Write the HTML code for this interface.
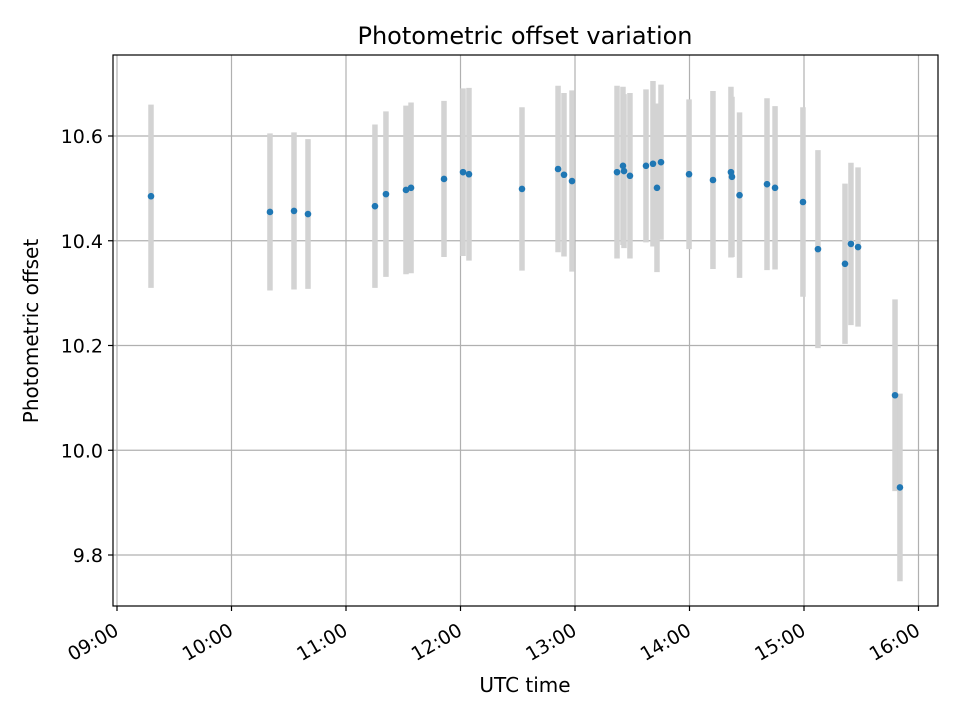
<!DOCTYPE html>
<html><head><meta charset="utf-8"><style>
body{margin:0;background:#fff;}
svg{display:block;font-family:"DejaVu Sans","Liberation Sans",sans-serif;}
</style></head><body>
<svg id="chart" width="960" height="720">
<rect width="960" height="720" fill="#fff"/>
<text x="525" y="44" text-anchor="middle" font-size="24">Photometric offset variation</text>
<g id="grid"></g><g id="errs"></g><g id="pts"></g>
<rect x="113" y="55" width="825" height="551" fill="none" stroke="#000" stroke-width="1.2"/>
<g id="axes"></g>
<text x="525" y="692" text-anchor="middle" font-size="20">UTC time</text>
<text transform="translate(38,331) rotate(-90)" text-anchor="middle" font-size="20">Photometric offset</text>
</svg>
<script>
const times=[9.297,10.336,10.546,10.668,11.253,11.349,11.524,11.568,11.856,12.022,12.074,12.537,12.852,12.904,12.974,13.367,13.419,13.428,13.480,13.620,13.681,13.716,13.751,13.996,14.205,14.362,14.371,14.437,14.677,14.747,14.991,15.122,15.358,15.410,15.472,15.795,15.838];
const offsets=[10.485,10.455,10.457,10.451,10.466,10.489,10.497,10.501,10.518,10.531,10.527,10.499,10.537,10.526,10.514,10.531,10.543,10.533,10.524,10.543,10.547,10.501,10.550,10.527,10.516,10.531,10.522,10.487,10.508,10.501,10.474,10.384,10.356,10.394,10.388,10.105,9.929];
const errors=[0.175,0.150,0.150,0.143,0.156,0.158,0.161,0.163,0.149,0.160,0.165,0.156,0.159,0.156,0.173,0.165,0.151,0.147,0.158,0.146,0.158,0.161,0.148,0.143,0.170,0.163,0.153,0.158,0.164,0.156,0.181,0.189,0.153,0.155,0.152,0.183,0.179];
const xTicks=[9,10,11,12,13,14,15,16];
const xTickLabels=["09:00","10:00","11:00","12:00","13:00","14:00","15:00","16:00"];
const yTicks=[9.8,10.0,10.2,10.4,10.6];
const yTickLabels=["9.8","10.0","10.2","10.4","10.6"];
const X=h=>117+(h-9)*114.5;
const Y=v=>136-(v-10.6)*523.75;
const NS="http://www.w3.org/2000/svg";
function mk(tag,attrs,parent){const e=document.createElementNS(NS,tag);for(const k in attrs)e.setAttribute(k,attrs[k]);parent.appendChild(e);return e;}
const grid=document.getElementById('grid'),axes=document.getElementById('axes'),errs=document.getElementById('errs'),pts=document.getElementById('pts');
xTicks.forEach((t,i)=>{const x=X(t);
 const g=mk('line',{x1:x,x2:x,y1:55,y2:606,stroke:'#b0b0b0','stroke-width':1.2},grid);
 
 
 const tk=mk('line',{x1:x,x2:x,y1:606,y2:611,stroke:'#000','stroke-width':1.2},axes);
 
 
 const l=mk('text',{x:0,y:0,'font-size':19,'text-anchor':'end',transform:`translate(${x+3},${634}) rotate(-30)`},axes);
 l.textContent=xTickLabels[i];
 
 
});
yTicks.forEach((t,i)=>{const y=Y(t);
 const g=mk('line',{x1:113,x2:938,y1:y,y2:y,stroke:'#b0b0b0','stroke-width':1.2},grid);
 
 
 const tk=mk('line',{x1:108,x2:113,y1:y,y2:y,stroke:'#000','stroke-width':1.2},axes);
 
 
 const l=mk('text',{x:103,y:y+7,'font-size':19,'text-anchor':'end'},axes);
 l.textContent=yTickLabels[i];
 
 
});
times.forEach((t,i)=>{const x=X(t);
 const e=mk('line',{x1:x,x2:x,y1:Y(offsets[i]+errors[i]),y2:Y(offsets[i]-errors[i]),stroke:'#d3d3d3','stroke-width':5.5},errs);
 
 
 const c=mk('circle',{cx:x,cy:Y(offsets[i]),r:3.3,fill:'#1f77b4'},pts);
 
 
});
</script>
</body></html>
